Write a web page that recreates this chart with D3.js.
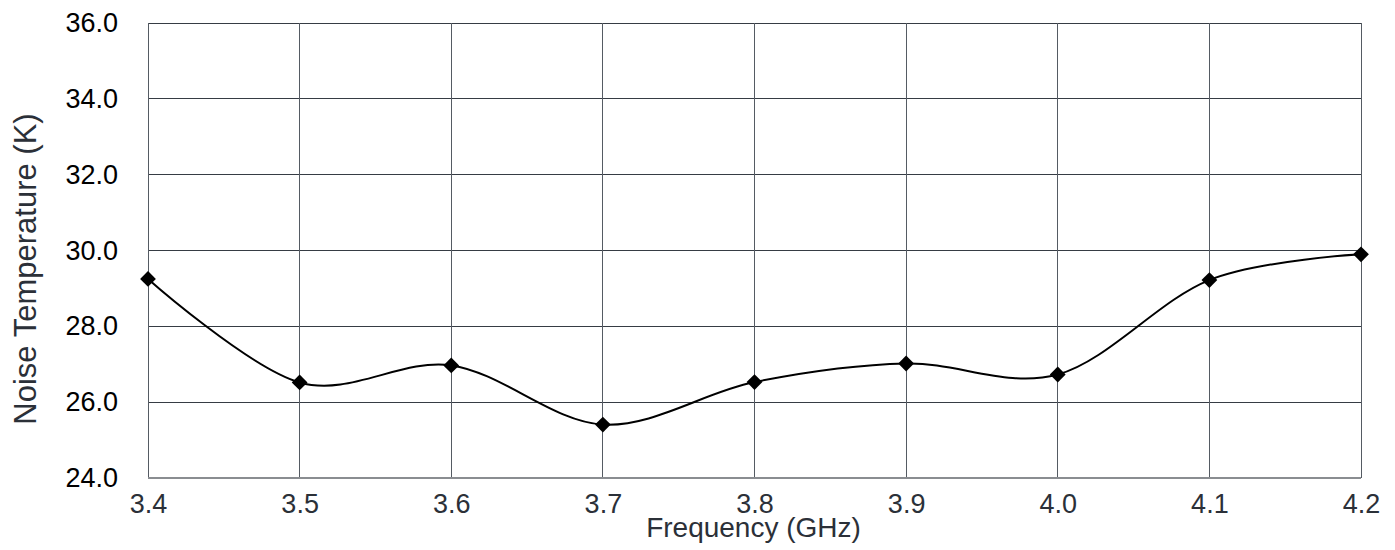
<!DOCTYPE html>
<html>
<head>
<meta charset="utf-8">
<script src="https://cdn.jsdelivr.net/npm/d3@7"></script>
<style>
  body { margin: 0; background: #fff; }
  text { font-family: "Liberation Sans", Arial, sans-serif; }
</style>
</head>
<body>
<svg id="chart" width="1395" height="550"></svg>
<script>
// data
const frequencies = [3.4, 3.5, 3.6, 3.7, 3.8, 3.9, 4.0, 4.1, 4.2];
const noiseTemps = [29.25, 26.52, 26.97, 25.41, 26.53, 27.02, 26.73, 29.22, 29.9];
const xTicks = [3.4, 3.5, 3.6, 3.7, 3.8, 3.9, 4.0, 4.1, 4.2];
const yTicks = [24, 26, 28, 30, 32, 34, 36];

const svg = d3.select("#chart");
const margin = { top: 23, right: 34, bottom: 72, left: 148 };
const width = 1395 - margin.left - margin.right;
const height = 550 - margin.top - margin.bottom;

const chart = svg.append("g")
    .attr("transform", `translate(${margin.left},${margin.top})`);

const x = d3.scaleLinear().domain([3.4, 4.2]).range([0, width]);
const y = d3.scaleLinear().domain([24, 36]).range([height, 0]);

// grid
chart.append("g")
    .attr("shape-rendering", "crispEdges")
    .selectAll("line")
    .data(yTicks)
    .enter().append("line")
    .attr("x1", 0).attr("x2", width)
    .attr("y1", d => y(d)).attr("y2", d => y(d))
    .attr("stroke", "#363c44").attr("stroke-width", 1);

chart.append("g")
    .attr("shape-rendering", "crispEdges")
    .selectAll("line")
    .data(xTicks)
    .enter().append("line")
    .attr("x1", d => x(d)).attr("x2", d => x(d))
    .attr("y1", 0).attr("y2", height)
    .attr("stroke", "#555b63").attr("stroke-width", 1);

// bottom axis line
chart.append("line")
    .attr("x1", 0).attr("x2", width)
    .attr("y1", height).attr("y2", height)
    .attr("stroke", "#8a8d91").attr("stroke-width", 2);

// x axis labels
const xAxis = chart.append("g")
    .attr("transform", `translate(0,${height})`)
    .call(d3.axisBottom(x).tickValues(xTicks).tickFormat(d3.format(".1f")).tickSize(0).tickPadding(16));
xAxis.select(".domain").remove();
xAxis.selectAll("text")
    .attr("font-size", 27).attr("fill", "#2b3038")
    .attr("font-family", "Liberation Sans, Arial, sans-serif");

// y axis labels
const yAxis = chart.append("g")
    .call(d3.axisLeft(y).tickValues(yTicks).tickFormat(d3.format(".1f")).tickSize(0).tickPadding(30));
yAxis.select(".domain").remove();
yAxis.selectAll("text")
    .attr("font-size", 27).attr("fill", "#000")
    .attr("font-family", "Liberation Sans, Arial, sans-serif");

// titles
svg.append("text")
    .attr("x", margin.left + width / 2 - 1)
    .attr("y", 537)
    .attr("text-anchor", "middle")
    .attr("font-size", 28)
    .attr("fill", "#2b3038")
    .text("Frequency (GHz)");

svg.append("text")
    .attr("transform", `translate(36,${269}) rotate(-90)`)
    .attr("text-anchor", "middle")
    .attr("font-size", 31)
    .attr("fill", "#2b3038")
    .text("Noise Temperature (K)");

// line
const points = frequencies.map((f, i) => ({ f: f, t: noiseTemps[i] }));
const line = d3.line()
    .x(d => x(d.f))
    .y(d => y(d.t))
    .curve(d3.curveCardinal.tension(0));

chart.append("path")
    .datum(points)
    .attr("d", line)
    .attr("fill", "none")
    .attr("stroke", "#000")
    .attr("stroke-width", 2);

// markers
chart.selectAll(".marker")
    .data(points)
    .enter().append("path")
    .attr("class", "marker")
    .attr("d", d3.symbol().type(d3.symbolSquare).size(125))
    .attr("transform", d => `translate(${x(d.f)},${y(d.t)}) rotate(45)`)
    .attr("fill", "#000");
</script>
</body>
</html>
